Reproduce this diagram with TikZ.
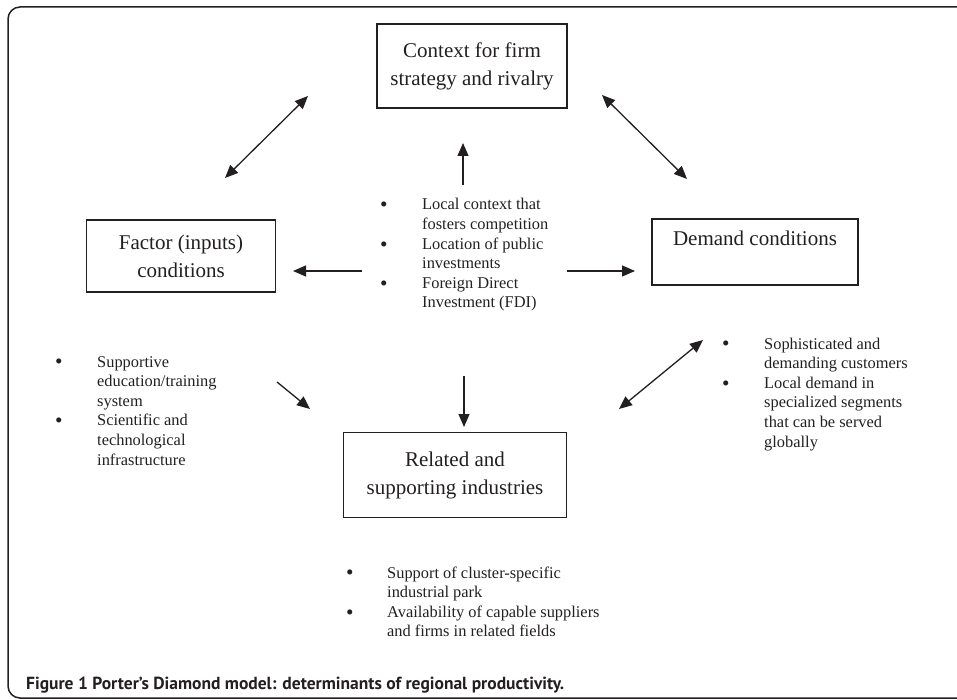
\documentclass[tikz,border=0pt]{standalone}
\usepackage{fontspec}
\setmainfont{Liberation Serif}
\newfontfamily\capfont{PT Sans}
\usetikzlibrary{arrows.meta,positioning}

\definecolor{ink}{HTML}{231F20}
\newcommand{\boxfont}{\fontsize{21}{28}\selectfont}
\newcommand{\bulfont}{\fontsize{16.4}{19.6}\selectfont}
\newcommand{\bdot}{\raisebox{-0.25ex}{\scalebox{1.3}{\textbullet}}}

\begin{document}
\begin{tikzpicture}[
    x=1pt, y=-1pt,
    frame/.style={draw=ink, line width=1.5pt, rounded corners=12pt},
    box/.style={rectangle, draw=ink, line width=1.4pt, text=ink, align=center, font=\boxfont},
    bul/.style={anchor=base west, inner sep=0pt, text=ink, font=\bulfont},
    arrow/.style={-{Triangle[length=13pt,width=11pt]}, draw=ink, line width=1.3pt},
    darrow/.style={{Triangle[length=13pt,width=11pt]}-{Triangle[length=13pt,width=11pt]}, draw=ink, line width=1.3pt}
]
\useasboundingbox (0,0) rectangle (957,700);

% Outer frame
\draw[frame] (8,7) rectangle (975,698);

% The four determinants
\node[box, minimum width=190pt, minimum height=84pt] (ctx) at (472,66) {Context for firm\\strategy and rivalry};
\node[box, minimum width=189pt, minimum height=72pt] (fac) at (181,256) {Factor (inputs)\\conditions};
\node[box, minimum width=206pt, minimum height=66pt] (dem) at (755,252) {Demand conditions\\\mbox{}};
\node[box, minimum width=223pt, minimum height=85pt] (rel) at (455,475) {Related and\\supporting industries};

% Bullet lists
\node[bul] (ctxlist) at (380,210) {\begin{tabular}[t]{@{}p{42pt}@{}l@{}}
\bdot & Local context that\\
 & fosters competition\\
\bdot & Location of public\\
 & investments\\
\bdot & Foreign Direct\\
 & Investment (FDI)
\end{tabular}};

\node[bul] (faclist) at (55,367) {\begin{tabular}[t]{@{}p{42pt}@{}l@{}}
\bdot & Supportive\\
 & education/training\\
 & system\\
\bdot & Scientific and\\
 & technological\\
 & infrastructure
\end{tabular}};

\node[bul] (demlist) at (722,349) {\begin{tabular}[t]{@{}p{42pt}@{}l@{}}
\bdot & Sophisticated and\\
 & demanding customers\\
\bdot & Local demand in\\
 & specialized segments\\
 & that can be served\\
 & globally
\end{tabular}};

\node[bul] (rellist) at (346,578) {\begin{tabular}[t]{@{}p{41pt}@{}l@{}}
\bdot & Support of cluster-specific\\
 & industrial park\\
\bdot & Availability of capable suppliers\\
 & and firms in related fields
\end{tabular}};

% Arrow ends
\coordinate (ul1) at (225,178);
\coordinate (ul2) at (308,96);
\coordinate (ur1) at (602,95);
\coordinate (ur2) at (687,179);
\coordinate (up1) at (463,185);
\coordinate (up2) at (463,143);
\coordinate (lf1) at (362,271);
\coordinate (lf2) at (293,271);
\coordinate (rt1) at (567,271);
\coordinate (rt2) at (635,271);
\coordinate (dn1) at (464,376);
\coordinate (dn2) at (464,427);
\coordinate (ll1) at (277,382);
\coordinate (ll2) at (310,409);
\coordinate (lr1) at (703,340);
\coordinate (lr2) at (619,409);

% Arrows
\foreach \i/\j in {up1/up2, lf1/lf2, rt1/rt2, dn1/dn2, ll1/ll2} {
    \draw[arrow] (\i) -- (\j);
}
\foreach \i/\j in {ul1/ul2, ur1/ur2, lr1/lr2} {
    \draw[darrow] (\i) -- (\j);
}

% Caption
\node[anchor=base west, inner sep=0pt, text=ink, font=\capfont\bfseries\fontsize{17.5}{20}\selectfont] (cap) at (26,689) {Figure 1 Porter’s Diamond model: determinants of regional productivity.};

\end{tikzpicture}
\end{document}
